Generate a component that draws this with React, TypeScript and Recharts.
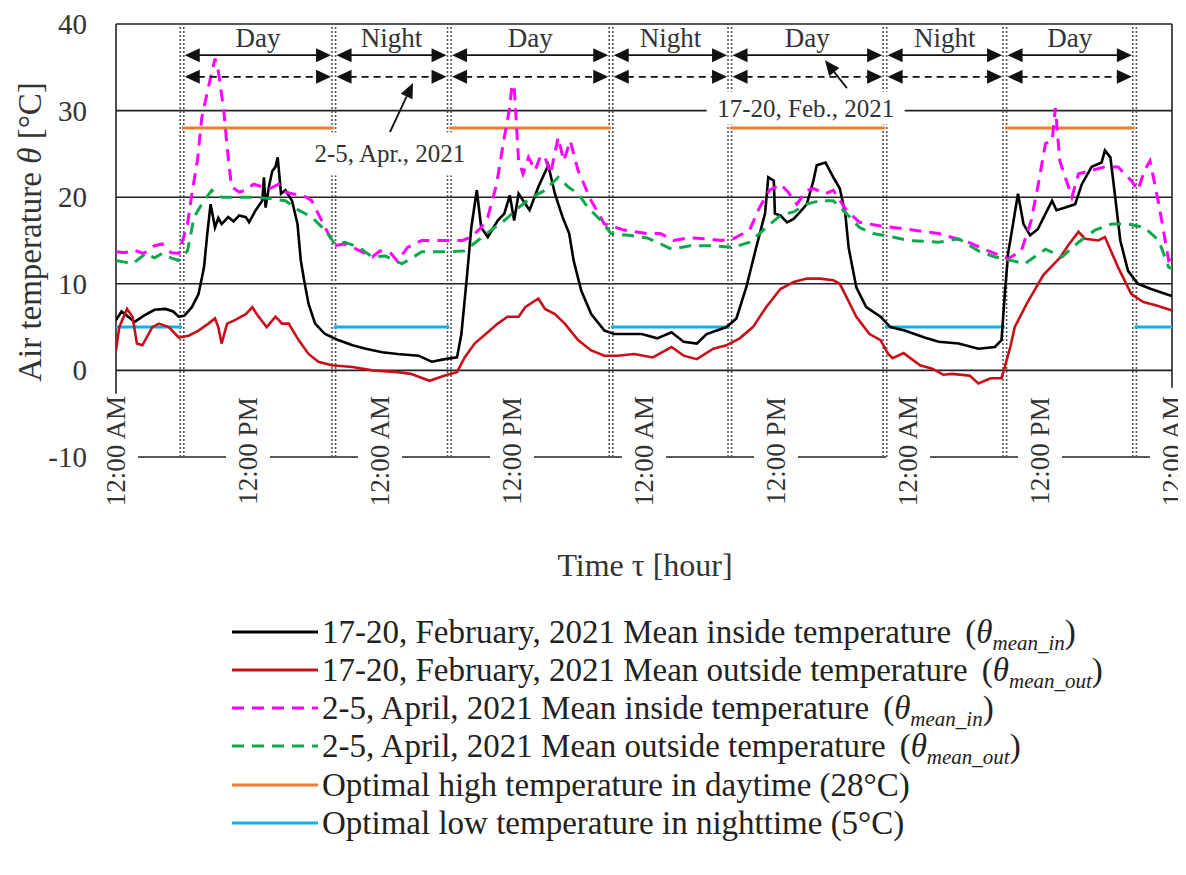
import React from 'react';
import { LineChart, Line, XAxis, YAxis, ReferenceLine, ReferenceDot } from 'recharts';

type Pt = [number, number];

// hour (0-96) , temperature (°C)
const febInside: Pt[] = [[0,5.8],[0.5,6.8],[1,6.3],[1.7,5.6],[2.5,6.3],[3.5,7.0],[4.5,7.1],[5.2,6.8],[5.7,6.2],[6.2,6.3],[6.9,7.3],[7.5,8.8],[8.0,11.9],[8.3,15.8],[8.6,19.2],[9.0,16.5],[9.3,17.6],[9.6,16.9],[10.2,17.7],[10.7,17.2],[11.2,17.9],[11.8,17.7],[12.1,17.1],[12.7,18.5],[13.3,19.6],[13.45,22.3],[13.6,18.8],[13.9,21.2],[14.2,23.0],[14.5,23.5],[14.7,24.6],[15.0,20.4],[15.4,20.8],[16.0,19.6],[16.5,16.9],[16.8,12.7],[17.1,10.4],[17.5,7.7],[18.1,5.4],[19.0,4.2],[20.2,3.5],[21.5,2.9],[22.7,2.5],[24.2,2.1],[25.6,1.9],[27.5,1.7],[28.7,1.0],[29.9,1.3],[31.0,1.5],[31.4,4.2],[31.9,10.8],[32.3,16.5],[32.8,20.8],[33.2,16.5],[33.8,15.4],[34.7,17.3],[35.3,18.1],[35.8,20.2],[36.2,17.3],[36.6,20.4],[37.6,18.5],[38.4,21.2],[39.3,23.7],[39.9,20.4],[40.6,17.7],[41.2,15.8],[41.6,12.7],[42.3,9.2],[43.2,6.5],[44.4,4.6],[45.3,4.2],[46.8,4.2],[47.8,4.2],[49.2,3.7],[50.5,4.4],[51.6,3.3],[52.8,3.1],[53.7,4.2],[55.5,5.0],[56.4,6.0],[57.3,9.6],[58.2,14.2],[59.0,18.1],[59.3,22.3],[59.8,21.9],[59.9,18.1],[60.4,17.9],[61.0,17.1],[61.6,17.5],[62.2,18.3],[62.8,19.2],[63.4,21.9],[63.7,23.7],[64.5,24.0],[65.3,22.1],[65.8,21.0],[66.3,18.1],[66.6,14.2],[67.3,9.6],[68.2,7.3],[69.5,6.2],[70.4,5.0],[71.7,4.6],[73.5,3.8],[74.8,3.3],[76.6,3.1],[78.4,2.5],[79.9,2.7],[80.5,3.5],[80.8,8.8],[81.1,13.5],[81.6,17.3],[82.0,20.4],[82.5,16.9],[83.1,15.6],[83.8,16.3],[84.5,18.1],[85.1,19.6],[85.5,18.5],[86.3,18.8],[87.2,19.2],[87.8,21.5],[88.7,23.5],[89.6,24.0],[89.9,25.4],[90.4,24.6],[90.8,20.4],[91.3,15.0],[92.0,11.5],[92.9,10.0],[94.1,9.4],[95.7,8.7],[96,8.6]];

const febOutside: Pt[] = [[0,2.3],[0.3,5.0],[1.0,7.1],[1.5,6.2],[1.9,3.1],[2.4,2.9],[3.3,5.0],[3.9,5.4],[4.8,5.0],[5.7,3.8],[6.6,4.0],[7.5,4.6],[8.4,5.4],[9.0,6.0],[9.3,5.0],[9.6,3.1],[10.1,5.4],[10.8,5.8],[11.8,6.5],[12.4,7.3],[12.9,6.3],[13.7,5.0],[14.5,6.2],[15.1,5.4],[15.7,5.4],[16.6,3.5],[17.5,1.9],[18.4,1.0],[19.6,0.6],[21.5,0.4],[23.3,0.0],[25.6,-0.2],[26.8,-0.4],[28.5,-1.2],[29.9,-0.6],[31.0,-0.2],[31.7,1.5],[32.6,3.1],[33.8,4.4],[34.7,5.4],[35.6,6.2],[36.6,6.2],[37.2,7.3],[38.4,8.3],[39.0,7.1],[39.9,6.5],[40.8,5.4],[42.0,3.5],[43.2,2.3],[44.4,1.7],[45.6,1.7],[47.1,1.9],[48.8,1.5],[50.5,2.7],[51.6,1.7],[52.8,1.3],[54.3,2.5],[55.5,2.9],[56.7,3.7],[57.9,5.0],[59.1,7.3],[60.4,9.4],[61.6,10.2],[62.8,10.6],[64.0,10.6],[65.2,10.4],[65.8,10.0],[66.4,8.5],[67.3,6.2],[68.5,4.2],[69.5,3.5],[70.2,1.9],[70.6,1.4],[71.6,2.0],[73.1,0.6],[74.2,0.2],[75.2,-0.5],[76.0,-0.4],[77.6,-0.6],[78.4,-1.5],[79.5,-0.9],[80.5,-0.9],[80.8,0.4],[81.3,2.7],[81.7,5.0],[82.8,7.7],[84.3,11.0],[85.8,13.0],[86.6,14.5],[87.5,16.0],[88.1,15.2],[89.3,15.0],[89.9,15.4],[91.1,11.9],[92.3,8.8],[93.4,7.9],[94.6,7.5],[95.8,7.0],[96,6.9]];

const aprInside: Pt[] = [[0,13.7],[0.8,13.6],[1.6,13.9],[2.5,13.5],[3.5,14.4],[4.2,14.6],[5.0,13.6],[5.7,13.5],[6.5,16.9],[6.9,20.4],[7.4,24.2],[7.8,29.2],[8.4,32.7],[9.0,36.0],[9.3,34.6],[9.8,30.0],[10.1,25.8],[10.5,21.2],[11.2,20.6],[11.8,20.8],[12.5,21.5],[13.3,21.2],[14.0,21.0],[14.8,21.5],[15.4,20.6],[16.0,20.4],[17.0,20.2],[17.8,19.6],[19.0,16.5],[19.9,14.4],[20.7,14.6],[21.5,14.2],[22.5,13.6],[23.3,13.1],[24.0,13.8],[25.0,13.5],[25.6,12.6],[26.5,14.2],[27.8,15.0],[29.0,15.0],[30.5,15.0],[31.5,15.0],[32.3,15.4],[33.2,16.5],[33.8,17.7],[34.6,21.5],[35.3,26.9],[35.8,30.4],[36.0,33.0],[36.2,32.7],[36.6,24.2],[37.0,22.7],[37.5,24.6],[38.1,23.1],[38.6,24.8],[39.0,24.6],[39.5,22.7],[40.2,26.9],[40.7,24.2],[41.3,26.5],[42.0,23.1],[43.2,19.6],[44.4,16.9],[46.2,16.2],[48.3,15.8],[49.5,15.8],[50.7,15.0],[52.0,15.3],[53.7,15.2],[55.0,15.0],[56.1,15.2],[57.6,16.2],[58.5,18.8],[59.4,20.8],[60.4,21.5],[61.1,20.6],[61.9,19.2],[62.8,20.8],[63.4,21.0],[64.5,20.4],[65.2,20.8],[66.4,18.5],[67.6,17.1],[69.4,16.7],[71.9,16.3],[74.8,15.8],[76.9,15.0],[77.7,14.7],[79.3,13.8],[81.1,12.9],[82.3,13.8],[83.2,17.3],[83.8,21.2],[84.5,26.2],[85.1,26.5],[85.4,30.3],[85.8,24.2],[86.3,22.3],[86.9,20.0],[87.5,22.7],[88.7,23.1],[89.9,23.5],[91.1,23.5],[92.3,21.9],[92.9,20.8],[93.5,23.1],[94.0,24.2],[94.8,19.2],[95.7,12.7],[96,13.0]];

const aprOutside: Pt[] = [[0,12.7],[0.8,12.5],[1.5,12.3],[2.7,13.5],[3.5,13.0],[4.2,13.5],[5.0,13.0],[5.7,12.7],[6.5,13.8],[7.1,17.7],[7.8,19.2],[8.7,20.8],[9.6,20.0],[11.2,20.0],[12.7,20.0],[14.2,19.8],[15.4,19.6],[16.6,18.5],[17.8,17.7],[19.0,16.2],[19.9,14.6],[20.8,14.8],[22.1,14.2],[23.3,13.1],[24.5,13.2],[26.0,12.3],[27.8,13.7],[29.9,13.7],[31.7,13.8],[32.9,15.0],[34.1,16.2],[35.3,17.3],[36.6,18.8],[37.8,20.0],[39.0,20.8],[40.2,22.3],[41.1,21.2],[42.0,20.4],[42.9,18.8],[44.1,17.3],[45.0,15.8],[46.6,15.6],[48.3,15.3],[49.2,14.8],[50.5,14.0],[52.2,14.4],[54.3,14.4],[56.1,14.2],[57.6,14.8],[59.1,16.5],[60.4,17.9],[61.6,18.3],[62.8,19.2],[64.0,19.6],[65.2,19.6],[66.4,18.1],[67.6,16.5],[68.8,15.8],[70.6,15.4],[72.1,15.0],[74.8,14.8],[76.6,15.2],[78.4,13.8],[79.9,13.1],[81.4,12.7],[82.6,12.3],[84.5,14.0],[86.0,13.1],[87.5,14.8],[89.0,16.2],[90.5,16.9],[92.0,16.9],[93.5,16.5],[94.8,15.0],[95.7,11.9],[96,11.8]];

const boundaryHours = [6.0, 19.8, 30.3, 45.0, 55.8, 69.9, 80.8, 92.6];
const periodLabels = ['Day', 'Night', 'Day', 'Night', 'Day', 'Night', 'Day'];
const xTicks = [0, 12, 24, 36, 48, 60, 72, 84, 96];
const xTickLabels = ['12:00 AM', '12:00 PM', '12:00 AM', '12:00 PM', '12:00 AM', '12:00 PM', '12:00 AM', '12:00 PM', '12:00 AM'];
const yTicks = [-10, 0, 10, 20, 30, 40];
const gridValues = [0, 10, 20, 30, 40];
const optimalHigh = 28;
const optimalLow = 5;

const seriesMeta = [
  { key: 'febIn', data: febInside, color: '#000000', dash: undefined as string | undefined, width: 2.6, text: '17-20, February, 2021 Mean inside temperature', sub: 'mean_in' },
  { key: 'febOut', data: febOutside, color: '#C8101A', dash: undefined as string | undefined, width: 2.6, text: '17-20, February, 2021 Mean outside temperature', sub: 'mean_out' },
  { key: 'aprIn', data: aprInside, color: '#FF00FF', dash: '12 8', width: 3, text: '2-5, April, 2021 Mean inside temperature', sub: 'mean_in' },
  { key: 'aprOut', data: aprOutside, color: '#0FA84A', dash: '12 8', width: 3, text: '2-5, April, 2021 Mean outside temperature', sub: 'mean_out' },
];
const optimalMeta = [
  { color: '#ED7D31', text: 'Optimal high temperature in daytime (28°C)' },
  { color: '#0AB0F0', text: 'Optimal low temperature in nighttime (5°C)' },
];

const FONT = "'Liberation Serif', 'Times New Roman', serif";
const TXT = '#333';
const W = 1178;
const H = 860;

const toRows = (pts: Pt[]) => pts.map(([h, v]) => ({ h, v }));

const dayPairs: [number, number][] = [];
const nightPairs: [number, number][] = [[0, boundaryHours[0]]];
for (let i = 0; i < boundaryHours.length - 1; i++) {
  if (i % 2 === 0) dayPairs.push([boundaryHours[i], boundaryHours[i + 1]]);
  else nightPairs.push([boundaryHours[i], boundaryHours[i + 1]]);
}
nightPairs.push([boundaryHours[boundaryHours.length - 1], 96]);

const XTick = (props: any) => {
  const { x, payload } = props;
  const idx = xTicks.indexOf(payload.value);
  return (
    <text transform={`translate(${x},443) rotate(-90)`} textAnchor="middle" dominantBaseline="central"
      fontSize={27} fontFamily={FONT} fill={TXT}>{xTickLabels[idx]}</text>
  );
};

const YTick = (props: any) => {
  const { y, payload } = props;
  return (
    <text x={79} y={y} textAnchor="end" dominantBaseline="central" fontSize={29} fontFamily={FONT} fill={TXT}>
      {payload.value}
    </text>
  );
};

const DoubleDotted = (p: any) => (
  <g>
    <line x1={p.x1 - 1.8} y1={p.y1} x2={p.x2 - 1.8} y2={p.y2} stroke="#555" strokeWidth={1.6} strokeDasharray="2 2" />
    <line x1={p.x1 + 1.8} y1={p.y1} x2={p.x2 + 1.8} y2={p.y2} stroke="#555" strokeWidth={1.6} strokeDasharray="2 2" />
  </g>
);

const makeDoubleArrow = (dashed: boolean) => (p: any) => {
  const L = 15, Hh = 7;
  return (
    <g>
      <line x1={p.x1 + L - 2} y1={p.y1} x2={p.x2 - L + 2} y2={p.y2} stroke="#111" strokeWidth={1.8}
        strokeDasharray={dashed ? '7 5' : undefined} />
      <polygon points={`${p.x1},${p.y1} ${p.x1 + L},${p.y1 - Hh} ${p.x1 + L},${p.y1 + Hh}`} fill="#111" />
      <polygon points={`${p.x2},${p.y2} ${p.x2 - L},${p.y2 - Hh} ${p.x2 - L},${p.y2 + Hh}`} fill="#111" />
    </g>
  );
};

const Pointer = (p: any) => {
  const dx = p.x2 - p.x1, dy = p.y2 - p.y1;
  const len = Math.sqrt(dx * dx + dy * dy);
  const ux = dx / len, uy = dy / len;
  const L = 15, Hh = 6.5;
  const bx = p.x2 - ux * L, by = p.y2 - uy * L;
  return (
    <g>
      <line x1={p.x1} y1={p.y1} x2={bx} y2={by} stroke="#111" strokeWidth={1.8} />
      <polygon points={`${p.x2},${p.y2} ${bx - uy * Hh},${by + ux * Hh} ${bx + uy * Hh},${by - ux * Hh}`} fill="#111" />
    </g>
  );
};

const makeBoxLabel = (text: string, w: number, h: number) => (p: any) => (
  <g>
    <rect x={p.cx - w / 2} y={p.cy - h / 2} width={w} height={h} fill="#fff" />
    <text x={p.cx} y={p.cy} textAnchor="middle" dominantBaseline="central" fontSize={25} fontFamily={FONT} fill={TXT}>{text}</text>
  </g>
);

const makePeriodLabel = (text: string) => (p: any) => (
  <text x={p.cx} y={p.cy} textAnchor="middle" fontSize={27} fontFamily={FONT} fill={TXT}>{text}</text>
);

const legendRowsY = [624, 662, 700, 738, 777, 815];

export default function App() {
  return (
    <div style={{ position: 'relative', width: W, height: H }}>
      <LineChart width={W} height={H} data={[]} margin={{ top: 16, right: W - 1164, left: 0, bottom: 390 }}>
        <XAxis dataKey="h" type="number" domain={[0, 96]} ticks={xTicks} tick={<XTick />} axisLine={false}
          tickLine={false} height={21} interval={0} allowDataOverflow />
        <YAxis type="number" domain={[-10, 40]} ticks={yTicks} axisLine={false} tickLine={false}
          width={108} tick={<YTick />} interval={0} allowDataOverflow />

        {gridValues.map((g) => (
          <ReferenceLine key={'g' + g} y={g} stroke="#222" strokeWidth={1.6} />
        ))}
        {xTicks.slice(0, -1).map((t) => (
          <ReferenceLine key={'b' + t} segment={[{ x: t + 2, y: -10 }, { x: t + 10, y: -10 }]} stroke="#222" strokeWidth={1.6} />
        ))}
        <ReferenceLine segment={[{ x: 0, y: -2.7 }, { x: 0, y: 40 }]} stroke="#222" strokeWidth={1.6} />
        <ReferenceLine segment={[{ x: 96, y: -2.0 }, { x: 96, y: 40 }]} stroke="#222" strokeWidth={1.6} />

        {boundaryHours.map((b) => (
          <ReferenceLine key={'v' + b} segment={[{ x: b, y: -10 }, { x: b, y: 40 }]} shape={DoubleDotted} />
        ))}

        {dayPairs.map(([a, b]) => (
          <ReferenceLine key={'o' + a} segment={[{ x: a, y: optimalHigh }, { x: b, y: optimalHigh }]} stroke={optimalMeta[0].color} strokeWidth={3} />
        ))}
        {nightPairs.map(([a, b]) => (
          <ReferenceLine key={'n' + a} segment={[{ x: a, y: optimalLow }, { x: b, y: optimalLow }]} stroke={optimalMeta[1].color} strokeWidth={3} />
        ))}

        {seriesMeta.map((s) => (
          <Line key={s.key} data={toRows(s.data)} dataKey="v" type="linear" stroke={s.color} strokeWidth={s.width}
            strokeDasharray={s.dash} dot={false} activeDot={false} isAnimationActive={false} />
        ))}

        <ReferenceDot x={24.9} y={25.0} r={0} shape={makeBoxLabel('2-5, Apr., 2021', 146, 43)} />
        <ReferenceDot x={62.7} y={30.3} r={0} shape={makeBoxLabel('17-20, Feb., 2021', 198, 33)} />

        {periodLabels.map((lab, i) => (
          <React.Fragment key={'p' + i}>
            <ReferenceLine segment={[{ x: boundaryHours[i] + 0.25, y: 36.4 }, { x: boundaryHours[i + 1] - 0.25, y: 36.4 }]}
              shape={makeDoubleArrow(false)} />
            <ReferenceLine segment={[{ x: boundaryHours[i] + 0.25, y: 33.9 }, { x: boundaryHours[i + 1] - 0.25, y: 33.9 }]}
              shape={makeDoubleArrow(true)} />
            <ReferenceDot x={(boundaryHours[i] + boundaryHours[i + 1]) / 2} y={37.4} r={0} shape={makePeriodLabel(lab)} />
          </React.Fragment>
        ))}

        <ReferenceLine segment={[{ x: 24.9, y: 27.5 }, { x: 27.0, y: 33.2 }]} shape={Pointer} />
        <ReferenceLine segment={[{ x: 66.45, y: 32.6 }, { x: 64.45, y: 35.8 }]} shape={Pointer} />
      </LineChart>

      <svg width={W} height={H} style={{ position: 'absolute', left: 0, top: 0, pointerEvents: 'none' }}>
        <text transform="translate(22,224) rotate(-90)" textAnchor="middle" dominantBaseline="central" fontSize={33}
          fontFamily={FONT} fill={TXT}>
          Air temperature <tspan fontStyle="italic">θ</tspan> [°C]
        </text>
        <text x={637} y={568} textAnchor="middle" fontSize={32} fontFamily={FONT} fill={TXT}>Time τ [hour]</text>

        {[...seriesMeta.map((s) => ({ color: s.color, dash: s.dash, text: s.text, sub: s.sub as string | undefined })),
          ...optimalMeta.map((o) => ({ color: o.color, dash: undefined as string | undefined, text: o.text, sub: undefined as string | undefined }))]
          .map((r, i) => (
            <g key={'lg' + i}>
              <line x1={224} y1={legendRowsY[i]} x2={310} y2={legendRowsY[i]} stroke={r.color} strokeWidth={3}
                strokeDasharray={r.dash ? '12 8' : undefined} />
              <text x={314} y={legendRowsY[i] + 11} fontSize={33} fontFamily={FONT} fill="#222">
                {r.text}
                {r.sub ? (
                  <>
                    <tspan dx={14}>(</tspan>
                    <tspan fontStyle="italic">θ</tspan>
                    <tspan fontStyle="italic" fontSize={21} dy={7}>{r.sub}</tspan>
                    <tspan dy={-7}>)</tspan>
                  </>
                ) : null}
              </text>
            </g>
          ))}
      </svg>
    </div>
  );
}
